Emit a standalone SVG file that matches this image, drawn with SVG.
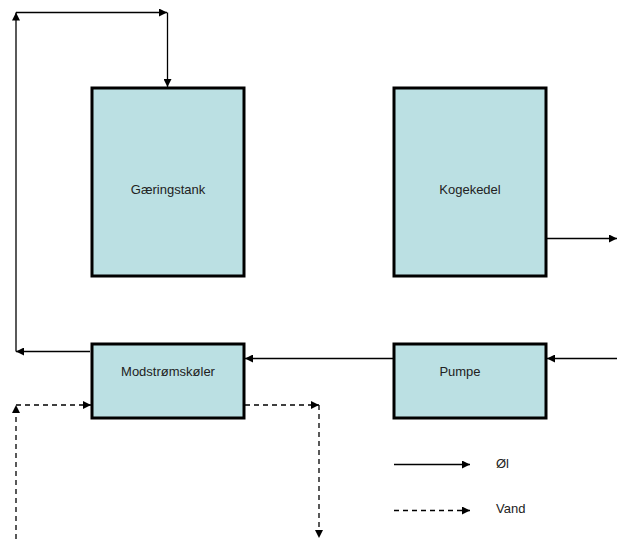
<svg xmlns="http://www.w3.org/2000/svg" width="617" height="539" viewBox="0 0 617 539">
<style>
.box{fill:#BBE0E3;stroke:#000;stroke-width:3}
.lbl{font-family:"Liberation Sans",Arial,sans-serif;font-size:13px;fill:#222;text-anchor:middle}
.leg{font-family:"Liberation Sans",Arial,sans-serif;font-size:13px;fill:#222}
.c{fill:none;stroke:#000;stroke-width:1.3;marker-end:url(#ah)}
.d{stroke-dasharray:5 4}
</style>
<defs>
<marker id="ah" markerUnits="userSpaceOnUse" markerWidth="10" markerHeight="8" refX="8" refY="4" orient="auto">
<path d="M0,0 L8,4 L0,8 Z" fill="#000"/>
</marker>
</defs>
<rect width="617" height="539" fill="#fff"/>
<g id="gaeringstank"><rect class="box" x="92" y="88" width="152" height="188"/><text class="lbl" x="168" y="194">Gæringstank</text></g>
<g id="kogekedel"><rect class="box" x="394" y="88" width="152" height="188"/><text class="lbl" x="470" y="194">Kogekedel</text></g>
<g id="modstromskoler"><rect class="box" x="92" y="344" width="152" height="74"/><text class="lbl" x="168" y="376">Modstrømskøler</text></g>
<g id="pumpe"><rect class="box" x="394" y="344" width="152" height="74"/><text class="lbl" x="460" y="376">Pumpe</text></g>
<g id="connectors">
<path class="c" d="M90,351.5 H16"/>
<path class="c" d="M16,351.5 V12.5"/>
<path class="c" d="M16,12.5 H167"/>
<path class="c" d="M167.5,12.5 V87"/>
<path class="c" d="M393,358.5 H245"/>
<path class="c" d="M617,358.5 H547"/>
<path class="c" d="M547,238.5 H617"/>
<path class="c d" d="M16,539 V405"/>
<path class="c d" d="M16,405 H91"/>
<path class="c d" d="M245,405 H319"/>
<path class="c d" d="M319,405 V538"/>
</g>
<g id="legend">
<path class="c" d="M394,464.5 H470"/>
<text class="leg" x="496" y="468">Øl</text>
<path class="c d" d="M394,510.5 H470"/>
<text class="leg" x="496" y="513">Vand</text>
</g>
</svg>
